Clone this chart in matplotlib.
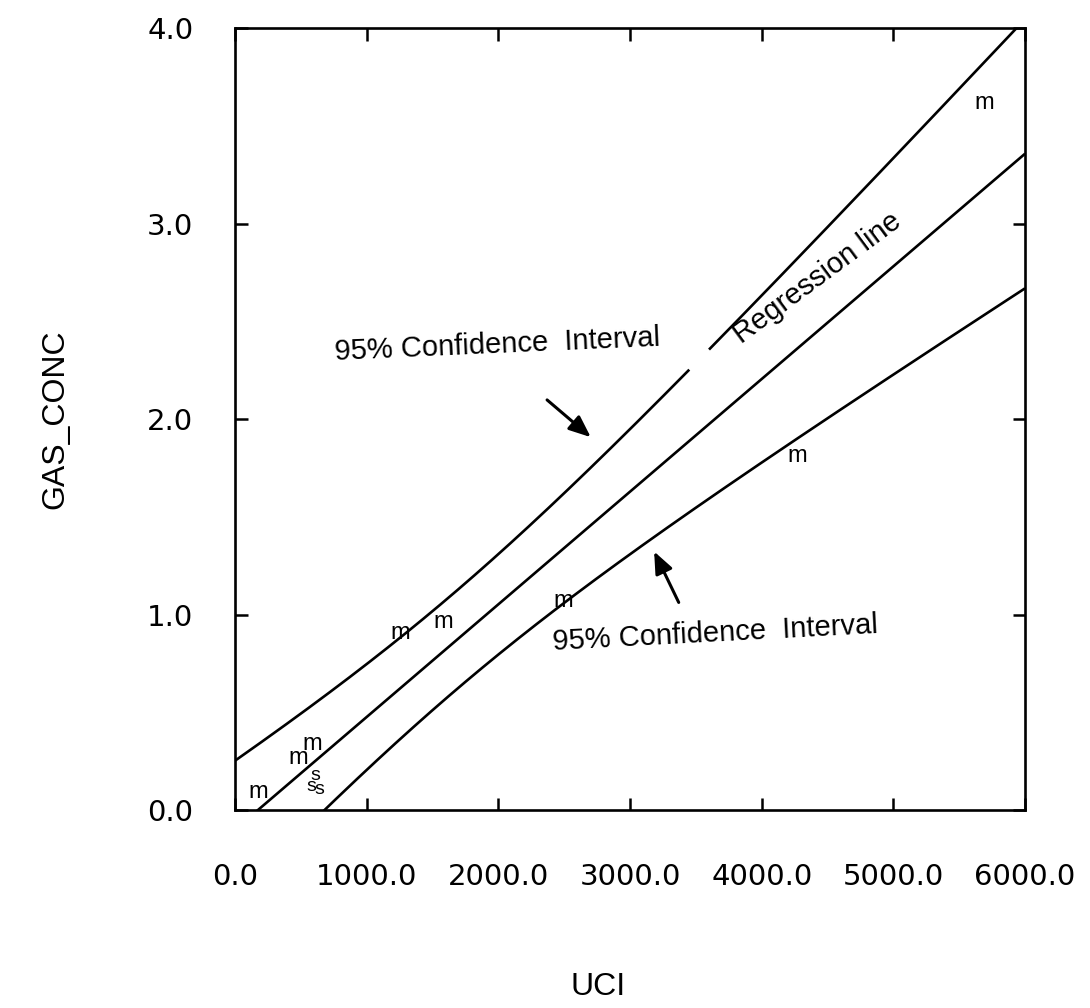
import numpy as np
import matplotlib
matplotlib.use("Agg")
import matplotlib.pyplot as plt

# UCI vs gas concentration, one entry per sample
uci = [175, 478, 585, 607, 577, 638, 1253, 1579, 2490, 4267, 5687]
gas_conc = [0.092, 0.266, 0.338, 0.179, 0.118, 0.107, 0.905, 0.962, 1.069, 1.81, 3.616]
sample_type = ["m", "m", "m", "s", "s", "s", "m", "m", "m", "m", "m"]

x_ticks = [0, 1000, 2000, 3000, 4000, 5000, 6000]
y_ticks = [0.0, 1.0, 2.0, 3.0, 4.0]

# F(0.95; 2, n-2) for the simultaneous (Working-Hotelling) band
f_crit = 4.26
# stretch of the upper band left open by the plotter
band_gap = (3455, 3592)


def fit_line(x, y):
    # Least squares line plus the 95% band around it
    x = np.asarray(x, float)
    y = np.asarray(y, float)
    n = len(x)
    slope, intercept = np.polyfit(x, y, 1)
    resid = y - (intercept + slope * x)
    s = np.sqrt(np.sum(resid ** 2) / (n - 2))
    sxx = np.sum((x - x.mean()) ** 2)
    crit = np.sqrt(2 * f_crit)

    xs = np.linspace(0, 6000, 601)
    fit = intercept + slope * xs
    half = crit * s * np.sqrt(1.0 / n + (xs - x.mean()) ** 2 / sxx)
    return xs, fit, fit - half, fit + half


xs, fit, lower, upper = fit_line(uci, gas_conc)
upper = np.where((xs > band_gap[0]) & (xs < band_gap[1]), np.nan, upper)

fig = plt.figure(figsize=(10.9, 10.08), dpi=100)
ax = fig.add_axes([0.2156, 0.1964, 0.7248, 0.7758])

line_kw = dict(color="black", lw=1.9, solid_capstyle="butt")
ax.plot(xs, fit, **line_kw)
ax.plot(xs, lower, **line_kw)
ax.plot(xs, upper, **line_kw)

for xv, yv, kind in zip(uci, gas_conc, sample_type):
    ax.text(xv, yv, kind, ha="center", va="center",
            fontsize=17 if kind == "m" else 14, family="Liberation Sans")

txt = dict(fontsize=21, family="Liberation Sans", ha="center", va="center")
ax.text(1989, 2.378, "95% Confidence  Interval", rotation=2.5, **txt)
ax.text(3645, 0.905, "95% Confidence  Interval", rotation=3, **txt)
ax.text(4420, 2.72, "Regression line", rotation=36.5, **txt)

arrow = dict(arrowstyle="-|>,head_length=0.6,head_width=0.25",
             color="black", lw=2.2, mutation_scale=22)
ax.annotate("", xy=(2718, 1.898), xytext=(2354, 2.107), arrowprops=arrow)
ax.annotate("", xy=(3174, 1.335), xytext=(3379, 1.049), arrowprops=arrow)

ax.set_xlim(0, 6000)
ax.set_ylim(0, 4.0)
ax.set_xticks(x_ticks)
ax.set_yticks(y_ticks)
ax.set_xticklabels([f"{v:.1f}" for v in x_ticks])
ax.set_yticklabels([f"{v:.1f}" for v in y_ticks])

for sp in ax.spines.values():
    sp.set_linewidth(1.9)
ax.tick_params(direction="in", length=9, width=1.8,
               top=True, right=True, labelsize=21)
ax.tick_params(axis="x", pad=38)
ax.tick_params(axis="y", pad=30)
for lab in ax.get_xticklabels() + ax.get_yticklabels():
    lab.set_family("DejaVu Sans")

ax.set_ylabel("GAS_CONC", fontsize=23, family="Liberation Sans")
ax.set_xlabel("UCI", fontsize=23, family="Liberation Sans")
ax.yaxis.set_label_coords(-0.209, 0.5)
ax.xaxis.label.set_va("center")
ax.xaxis.set_label_coords(0.46, -0.226)

fig.savefig("out.png", dpi=100, facecolor="white")
